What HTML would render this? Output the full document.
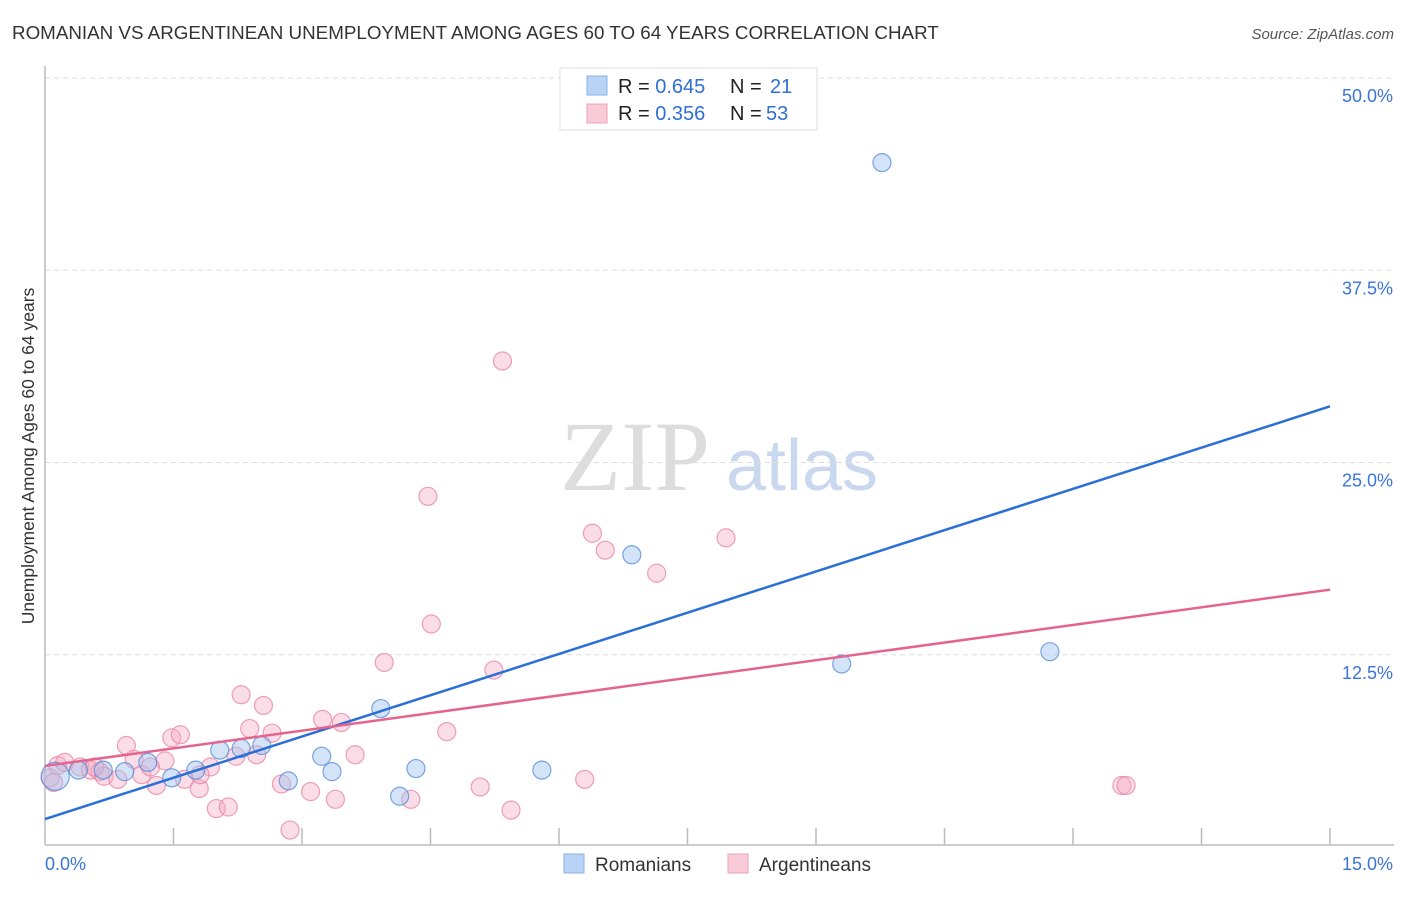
<!DOCTYPE html>
<html><head><meta charset="utf-8"><style>
body{margin:0;background:#fff;font-family:"Liberation Sans",sans-serif;}
</style></head><body>
<svg id="chart" width="1406" height="892" xmlns="http://www.w3.org/2000/svg">
<text x="12" y="39" font-size="18.8" fill="#333">ROMANIAN VS ARGENTINEAN UNEMPLOYMENT AMONG AGES 60 TO 64 YEARS CORRELATION CHART</text>
<text x="1394" y="39" font-size="15" fill="#555" font-style="italic" text-anchor="end">Source: ZipAtlas.com</text>
<text x="34" y="456" font-size="17.5" fill="#333" text-anchor="middle" transform="rotate(-90 34 456)">Unemployment Among Ages 60 to 64 years</text>
<g><text x="635" y="490" font-size="100" fill="#ddd" font-family="Liberation Serif" text-anchor="middle">ZIP</text><text x="802" y="490" font-size="72" fill="#c9d8ee" text-anchor="middle">atlas</text></g>
<g id="grid"></g><g id="axes"></g><g id="pts"></g><g id="lines"></g>
<g>
<rect x="560" y="68" width="257" height="62" fill="#fff" stroke="#ddd"/>
<rect x="587" y="76" width="20" height="19" fill="#b8d3f5" stroke="#8ab0e6"/>
<rect x="587" y="104" width="20" height="19" fill="#f9cad8" stroke="#eea0b8"/>
<text x="618" y="93" font-size="20" fill="#222">R = <tspan fill="#2f6fd6">0.645</tspan><tspan x="730">N = </tspan><tspan x="770" fill="#2f6fd6">21</tspan></text>
<text x="618" y="120" font-size="20" fill="#222">R = <tspan fill="#2f6fd6">0.356</tspan><tspan x="730">N = </tspan><tspan x="766" fill="#2f6fd6">53</tspan></text>
</g>
<g>
<rect x="564" y="854" width="20" height="19" fill="#b8d3f5" stroke="#8ab0e6"/>
<text x="595" y="871" font-size="19" fill="#333">Romanians</text>
<rect x="728" y="854" width="20" height="19" fill="#f9cad8" stroke="#eea0b8"/>
<text x="759" y="871" font-size="19" fill="#333">Argentineans</text>
</g>
</svg>
<script>
const yTicks=[12.5,25,37.5,50];
const yTickLabels=["12.5%","25.0%","37.5%","50.0%"];
const xTickVals=[0,1.5,3,4.5,6,7.5,9,10.5,12,13.5,15];
const romX=[0.12,0.39,0.68,0.93,1.2,1.48,1.76,2.04,2.29,2.53,2.84,3.23,3.35,3.92,4.33,4.14,5.80,6.85,9.30,9.77,11.73];
const romY=[4.6,5.0,5.0,4.9,5.5,4.5,5.0,6.3,6.4,6.6,4.3,5.9,4.9,9.0,5.1,3.3,5.0,19.0,11.9,44.5,12.7];
const romR=[14,9,9,9,9,9,9,9,9,9,9,9,9,9,9,9,9,9,9,9,9];
const argX=[0.06,0.15,0.23,0.41,0.53,0.64,0.69,0.85,0.95,1.04,1.13,1.30,1.40,1.48,1.58,1.63,1.80,1.93,2.00,2.14,2.23,2.29,2.39,2.47,2.55,2.65,2.76,2.86,3.10,3.24,3.39,3.46,3.62,3.96,4.27,4.47,4.51,4.69,5.08,5.24,5.34,5.44,6.30,6.39,6.54,7.14,7.95,12.57,12.62,0.58,1.23,1.81,0.10];
const argY=[4.5,5.3,5.5,5.2,5.0,4.9,4.6,4.4,6.6,5.7,4.7,4.0,5.6,7.1,7.3,4.4,3.8,5.2,2.5,2.6,5.9,9.9,7.7,6.0,9.2,7.4,4.1,1.1,3.6,8.3,3.1,8.1,6.0,12.0,3.1,22.8,14.5,7.5,3.9,11.5,31.6,2.4,4.4,20.4,19.3,17.8,20.1,4.0,4.0,5.2,5.2,4.7,4.2];
const romTrend=[1.82,28.65];
const argTrend=[5.27,16.73];
const NS="http://www.w3.org/2000/svg";
const X0=45,X1=1330,Y0=847,Y50=78;
const sx=v=>X0+(X1-X0)*v/15;
const sy=v=>Y0-(Y0-Y50)*v/50;
function mk(tag,attrs,parent){const e=document.createElementNS(NS,tag);for(const k in attrs)e.setAttribute(k,attrs[k]);document.getElementById(parent).appendChild(e);return e;}
yTicks.forEach((t,i)=>{
 const g=mk('line',{x1:X0,x2:1394,y1:sy(t),y2:sy(t),stroke:'#ddd','stroke-dasharray':'5,4'},'grid');
 
 
 const l=mk('text',{x:1393,y:sy(t)+24,'font-size':18,fill:'#3a75d8','text-anchor':'end'},'grid');
 l.textContent=yTickLabels[i];
 
 
});
const ya=mk('line',{x1:X0,x2:X0,y1:66,y2:Y0-2,stroke:'#bbb','stroke-width':1.5},'axes');


const xa=mk('line',{x1:X0,x2:1394,y1:Y0-2,y2:Y0-2,stroke:'#bbb','stroke-width':1.5},'axes');


xTickVals.forEach(v=>{
 if(v===0)return;
 const t=mk('line',{x1:sx(v),x2:sx(v),y1:828,y2:Y0-2,stroke:'#bbb','stroke-width':1.5},'axes');
 
 
});
const xl0=mk('text',{x:45,y:870,'font-size':18,fill:'#3a75d8'},'axes');xl0.textContent='0.0%';


const xl1=mk('text',{x:1393,y:870,'font-size':18,fill:'#3a75d8','text-anchor':'end'},'axes');xl1.textContent='15.0%';


argX.forEach((v,i)=>{
 const c=mk('circle',{cx:sx(v),cy:sy(argY[i]),r:9,fill:'rgba(246,170,195,0.4)',stroke:'rgba(232,130,162,0.75)','stroke-width':1.2},'pts');
 
 
});
romX.forEach((v,i)=>{
 const c=mk('circle',{cx:sx(v),cy:sy(romY[i]),r:romR[i],fill:'rgba(160,196,240,0.45)',stroke:'rgba(80,135,215,0.75)','stroke-width':1.2},'pts');
 
 
});
const bl=mk('line',{x1:sx(0),y1:sy(romTrend[0]),x2:sx(15),y2:sy(romTrend[1]),stroke:'#2a6fd8','stroke-width':2.5},'lines');


const pl=mk('line',{x1:sx(0),y1:sy(argTrend[0]),x2:sx(15),y2:sy(argTrend[1]),stroke:'#e5648f','stroke-width':2.5},'lines');


</script>
</body></html>
